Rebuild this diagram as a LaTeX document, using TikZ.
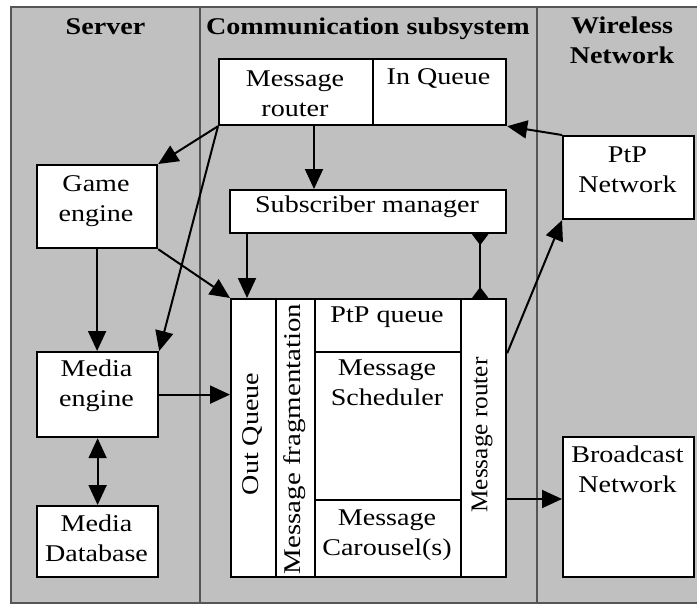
\documentclass[tikz,border=0pt]{standalone}
\usepackage{fontspec}
\setmainfont{Liberation Serif}[FakeStretch=1.17]
\usetikzlibrary{arrows.meta}
\definecolor{bggray}{RGB}{192,192,192}
\definecolor{divgray}{RGB}{85,85,85}
\newcommand{\ml}[1]{\begin{tabular}[t]{@{}c@{}}#1\end{tabular}}
\begin{document}
\begin{tikzpicture}[x=1pt,y=-1pt,
  box/.style={draw=black, line width=2.2pt, fill=white, inner sep=0pt, anchor=north west},
  txt/.style={inner sep=0pt, anchor=base, font=\fontsize{24}{30}\selectfont},
  hdr/.style={inner sep=0pt, anchor=base, font=\fontsize{24}{30}\selectfont\bfseries},
  rtxt/.style={inner sep=0pt, rotate=90, anchor=center, font=\fontsize{24}{30}\selectfont},
  tip/.style={Triangle[length=20pt,width=18pt]},
  arr/.style={line width=2pt, -{Triangle[length=20pt,width=18pt]}},
  darr/.style={line width=2pt, {Triangle[length=20pt,width=18pt]}-{Triangle[length=20pt,width=18pt]}},
  diam/.style={line width=2pt, {Triangle[reversed,length=11pt,width=16pt]}-{Triangle[reversed,length=11pt,width=16pt]}},
  divider/.style={draw=divgray, line width=2pt},
]
\useasboundingbox (0,0) rectangle (697,606);
% background and lanes
\fill[bggray] (11,7) rectangle (699,603);
\draw[divider] (699,7) -- (11,7) -- (11,603) -- (699,603);
\draw[divider] (200,7) -- (200,603);
\draw[divider] (537,7) -- (537,603);

% headers
\node[hdr] (hserver) at (105.5,34) {Server};
\node[hdr] (hcomm) at (368,34) {Communication subsystem};
\node[hdr] (hwire) at (622,33) {\ml{Wireless\\Network}};

% boxes
\node[box, minimum width=154pt, minimum height=66pt] (mr) at (218,58) {};
\node[box, minimum width=133pt, minimum height=66pt] (iq) at (372,58) {};
\node[box, minimum width=276pt, minimum height=43pt] (sm) at (229,189) {};
\node[box, minimum width=120pt, minimum height=83pt] (ge) at (36,164) {};
\node[box, minimum width=131pt, minimum height=83pt] (ptp) at (562,135) {};
\node[box, minimum width=121pt, minimum height=85pt] (me) at (36,351) {};
\node[box, minimum width=121pt, minimum height=71pt] (md) at (36,505) {};
\node[box, minimum width=45pt, minimum height=278pt] (oq) at (230,298) {};
\node[box, minimum width=39pt, minimum height=278pt] (mf) at (275,298) {};
\node[box, minimum width=146pt, minimum height=53pt] (pq) at (314,298) {};
\node[box, minimum width=146pt, minimum height=148pt] (ms) at (314,351) {};
\node[box, minimum width=146pt, minimum height=77pt] (mc) at (314,499) {};
\node[box, minimum width=45pt, minimum height=278pt] (mrv) at (460,298) {};
\node[box, minimum width=131pt, minimum height=140pt] (bn) at (562,436) {};

% texts
\node[txt] (mrt) at (295,86) {\ml{Message\\router}};
\node[txt] (iqt) at (438.5,84) {In Queue};
\node[txt] (smt) at (367,212) {Subscriber manager};
\node[txt] (get) at (96,191.5) {\ml{Game\\engine}};
\node[txt] (ptpt) at (627.5,162) {\ml{PtP\\Network}};
\node[txt] (met) at (96.5,376) {\ml{Media\\engine}};
\node[txt] (mdt) at (96.5,531) {\ml{Media\\Database}};
\node[txt] (pqt) at (387,322) {PtP queue};
\node[txt] (mst) at (387,375) {\ml{Message\\Scheduler}};
\node[txt] (mct) at (387,525) {\ml{Message\\Carousel(s)}};
\node[txt] (bnt) at (627.5,462) {\ml{Broadcast\\Network}};
\node[rtxt] (oqt) at (252,434) {Out Queue};
\node[rtxt] (mft) at (294.5,439) {\scalebox{1.03}[1]{Message fragmentation}};
\node[rtxt] (mrvt) at (482,435) {\scalebox{0.9}[1]{Message router}};

% helper coordinates
\coordinate (c4) at ([xshift=17pt]oq.north west);
\coordinate (c9) at ([xshift=-27pt]sm.south east);

% connectors
\draw[arr] (mr.south west) -- (ge.north east);
\draw[arr] (mr.south west) -- (me.north east);
\draw[arr] (mr.south -| pq.west) -- (sm.north -| pq.west);
\draw[arr] (c4 |- sm.south) -- (c4);
\draw[arr] (ge.south east) -- (oq.north west);
\draw[arr] (ge.south) -- (ge.south |- me.north);
\draw[arr] (me.east) -- (me.east -| oq.west);
\draw[darr] (me.south) -- (md.north);
\draw[diam] (c9) -- (c9 |- mrv.north);
\draw[arr] (pq.south -| mrv.east) -- (ptp.south west);
\draw[arr] (ptp.north west) -- (iq.south east);
\draw[arr] (mc.north -| mrv.east) -- (mc.north -| bn.west);
\end{tikzpicture}
\end{document}
